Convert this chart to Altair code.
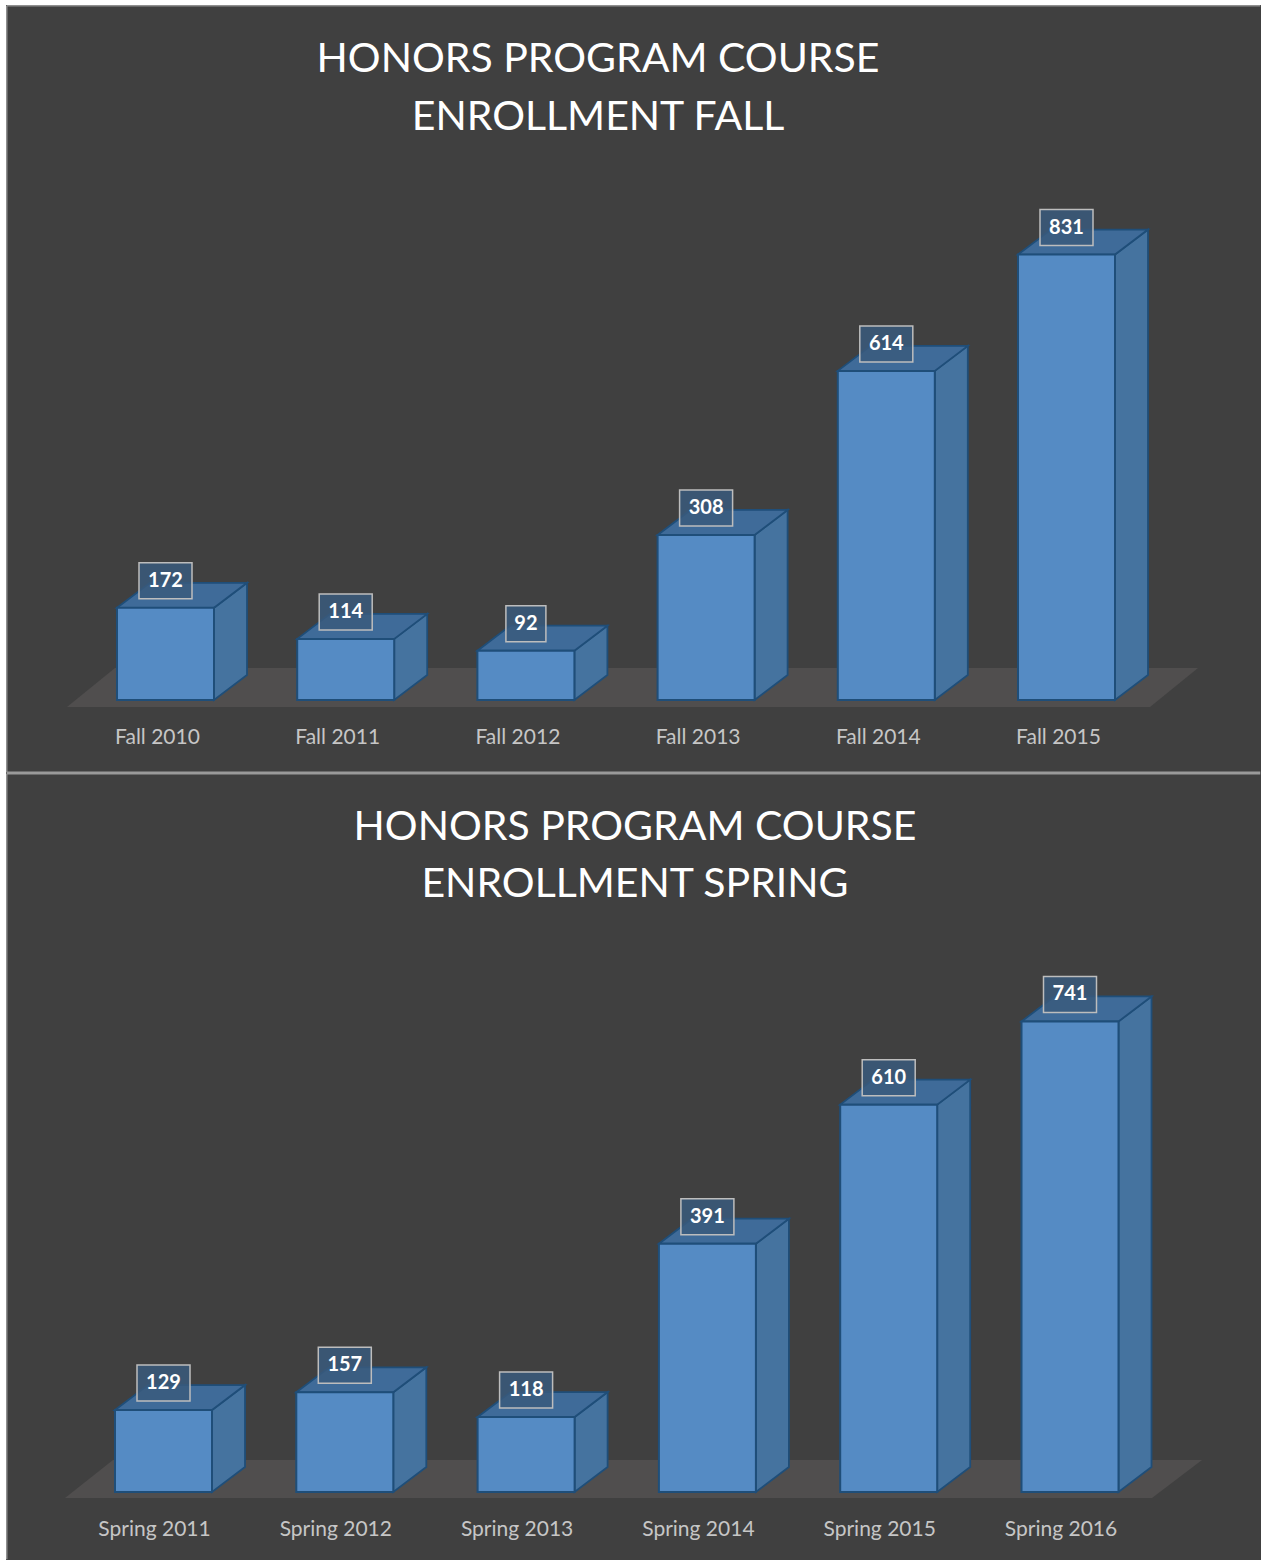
import altair as alt
import pandas as pd

# ---------------- data ----------------
fall_cats = ["Fall 2010", "Fall 2011", "Fall 2012", "Fall 2013", "Fall 2014", "Fall 2015"]
fall_vals = [172, 114, 92, 308, 614, 831]
spring_cats = ["Spring 2011", "Spring 2012", "Spring 2013", "Spring 2014", "Spring 2015", "Spring 2016"]
spring_vals = [129, 157, 118, 391, 610, 741]
fall_title = ["HONORS PROGRAM COURSE", "ENROLLMENT FALL"]
spring_title = ["HONORS PROGRAM COURSE", "ENROLLMENT SPRING"]

# ---------------- style ----------------
BG = "#404040"
FLOOR = "#504e4e"
FRONT = "#558bc4"
SIDE = "#45739f"
TOP = "#3f6b99"
EDGE = "#1f4e79"
BORDER = "#8f8f8f"
FONT = "Lato"
W = 1255


def panel(cats, vals, title, H, y0, ky, cx0, step, floor_px, label_y, label_dx,
          title_x, title_y, is_top):
    sx = step
    x_origin = cx0 - 0.5 * sx
    xs = alt.Scale(domain=[-x_origin / sx, (W - x_origin) / sx], nice=False, zero=False)
    ys = alt.Scale(domain=[-(H - y0) / ky, y0 / ky], nice=False, zero=False)
    hw = 48.5 / sx
    dx = 33 / sx
    dy = 25 / ky

    def ux(px):
        return (px - x_origin) / sx

    def uy(py):
        return (y0 - py) / ky

    centers = [i + 0.5 for i in range(len(vals))]

    front = pd.DataFrame({
        "cat": cats,
        "x": [c - hw for c in centers],
        "x2": [c + hw for c in centers],
        "y": [0] * len(vals),
        "y2": vals,
    })

    side_rows, top_rows, box_rows = [], [], []
    for cat, c, v in zip(cats, centers, vals):
        a, b = c - hw, c + hw
        side_rows += [
            {"cat": cat, "x": b, "lo": 0, "hi": v},
            {"cat": cat, "x": b + dx, "lo": dy, "hi": v + dy},
        ]
        top_rows += [
            {"cat": cat, "x": a, "lo": v, "hi": v},
            {"cat": cat, "x": a + dx, "lo": v, "hi": v + dy},
            {"cat": cat, "x": b, "lo": v, "hi": v + dy},
            {"cat": cat, "x": b + dx, "lo": v + dy, "hi": v + dy},
        ]
        label = str(v)
        half_w = (len(label) * 13 + 14) / 2 / sx
        ymid = v + 27 / ky
        box_rows.append({
            "cat": cat, "label": label, "xc": c,
            "x": c - half_w, "x2": c + half_w,
            "y": ymid - 18 / ky, "y2": ymid + 18 / ky, "ym": ymid,
        })
    side = pd.DataFrame(side_rows)
    top = pd.DataFrame(top_rows)
    boxes = pd.DataFrame(box_rows)

    fxl, fxr, bxl, bxr, fy, by = floor_px
    floor = pd.DataFrame({
        "x": [ux(fxl), ux(bxl), ux(fxr), ux(bxr)],
        "lo": [uy(fy), uy(fy), uy(fy), uy(by)],
        "hi": [uy(fy), uy(by), uy(by), uy(by)],
    })

    labels = pd.DataFrame({"cat": cats, "x": centers})

    X = lambda f: alt.X(f, type="quantitative", scale=xs, axis=None)
    Y = lambda f: alt.Y(f, type="quantitative", scale=ys, axis=None)

    floor_l = alt.Chart(floor).mark_area(color=FLOOR, opacity=1).encode(
        x=X("x"), y=Y("hi"), y2="lo")
    side_l = alt.Chart(side).mark_area(fill=SIDE, stroke=EDGE, strokeWidth=1.8,
                                       opacity=1, fillOpacity=1).encode(
        x=X("x"), y=Y("hi"), y2="lo", detail="cat:N")
    top_l = alt.Chart(top).mark_area(fill=TOP, stroke=EDGE, strokeWidth=1.8,
                                     opacity=1, fillOpacity=1).encode(
        x=X("x"), y=Y("hi"), y2="lo", detail="cat:N")
    front_l = alt.Chart(front).mark_rect(fill=FRONT, stroke=EDGE, strokeWidth=2).encode(
        x=X("x"), x2="x2", y=Y("y"), y2="y2")
    box_l = alt.Chart(boxes).mark_rect(fill="#3a5a7c", fillOpacity=0.85,
                                       stroke="#bdbdbd", strokeWidth=1.5).encode(
        x=X("x"), x2="x2", y=Y("y"), y2="y2")
    num_l = alt.Chart(boxes).mark_text(font=FONT, fontSize=20, fontWeight="bold",
                                       color="white", baseline="middle").encode(
        x=X("xc"), y=Y("ym"), text="label:N")
    cat_l = alt.Chart(labels).mark_text(font=FONT, fontSize=21, color="#c6c6c6",
                                        baseline="middle", dx=label_dx).encode(
        x=X("x"), y=alt.value(label_y), text="cat:N")

    one = pd.DataFrame({"k": [0]})
    t1 = alt.Chart(one).mark_text(font=FONT, fontSize=41, fontWeight="normal", color="white",
                                  baseline="middle").encode(
        x=alt.value(title_x), y=alt.value(title_y[0]), text=alt.value(title[0]))
    t2 = alt.Chart(one).mark_text(font=FONT, fontSize=41, fontWeight="normal", color="white",
                                  baseline="middle").encode(
        x=alt.value(title_x), y=alt.value(title_y[1]), text=alt.value(title[1]))

    # white page margin outside the panel (rects have exact bounds)
    margin_left = alt.Chart(one).mark_rect(color="white").encode(
        x=alt.value(-6), x2=alt.value(0),
        y=alt.value(-5 if is_top else 0), y2=alt.value(H))
    # borders kept inside the panel
    left = alt.Chart(one).mark_rule(color=BORDER, strokeWidth=1.5).encode(
        x=alt.value(0.75), y=alt.value(0.75), y2=alt.value(H - 0.75))
    layers = [floor_l, side_l, top_l, front_l, box_l, num_l, cat_l, t1, t2,
              margin_left, left]
    if is_top:
        layers.append(alt.Chart(one).mark_rect(color="white").encode(
            x=alt.value(-6), x2=alt.value(W), y=alt.value(-5), y2=alt.value(0)))
        layers.append(alt.Chart(one).mark_rule(color=BORDER, strokeWidth=1.5).encode(
            x=alt.value(0.75), x2=alt.value(W - 0.75), y=alt.value(0.75)))
        layers.append(alt.Chart(one).mark_rule(color="#9a9a9a", strokeWidth=1.5).encode(
            x=alt.value(0.75), x2=alt.value(W - 0.75), y=alt.value(H - 0.75)))
    else:
        layers.append(alt.Chart(one).mark_rule(color="#9a9a9a", strokeWidth=1.5).encode(
            x=alt.value(0.75), x2=alt.value(W - 0.75), y=alt.value(0.75)))
    return alt.layer(*layers).properties(width=W, height=H)


top_panel = panel(fall_cats, fall_vals, fall_title, H=768, y0=695, ky=0.536,
                  cx0=159.5, step=180.2,
                  floor_px=(61, 1144, 109, 1192, 702, 663),
                  label_y=733, label_dx=-8, title_x=592, title_y=(55, 113),
                  is_top=True)
bottom_panel = panel(spring_cats, spring_vals, spring_title, H=787, y0=719, ky=0.635,
                     cx0=157.5, step=181.3,
                     floor_px=(59, 1146, 107, 1196, 725, 687),
                     label_y=757, label_dx=-9, title_x=629, title_y=(55, 112),
                     is_top=False)

chart = alt.vconcat(top_panel, bottom_panel, spacing=0).properties(
    padding=0,
    background=BG,
).configure_view(stroke=None, fill=BG)

chart.save("out.html", embed_options={"renderer": "svg", "actions": False})
